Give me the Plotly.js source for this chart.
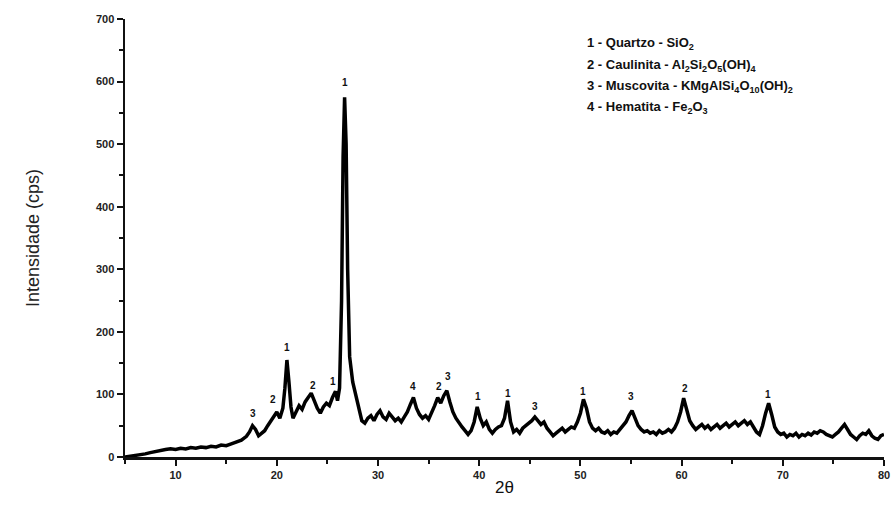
<!DOCTYPE html>
<html>
<head>
<meta charset="utf-8">
<script src="https://cdn.plot.ly/plotly-3.0.1.min.js"></script>
<style>html,body{margin:0;padding:0;background:#fff;}#chart{width:894px;height:511px;}</style>
</head>
<body>
<div id="chart"></div>
<script>
// 2θ positions (degrees)
const twoTheta = [5.0,5.5,6.0,6.5,7.0,7.5,8.0,8.5,9.0,9.5,10.0,10.5,11.0,11.5,12.0,12.5,13.0,13.5,14.0,14.5,15.0,15.5,16.0,16.5,17.0,17.3,17.6,17.9,18.2,18.5,18.8,19.1,19.4,19.7,20.0,20.3,20.6,20.8,21.0,21.2,21.4,21.6,21.9,22.2,22.5,22.8,23.1,23.4,23.7,24.0,24.3,24.6,24.9,25.2,25.5,25.8,26.0,26.2,26.4,26.55,26.7,26.85,27.0,27.2,27.5,27.8,28.1,28.4,28.7,29.0,29.3,29.6,29.9,30.2,30.5,30.8,31.1,31.4,31.7,32.0,32.3,32.6,32.9,33.2,33.5,33.8,34.1,34.4,34.7,35.0,35.3,35.6,35.9,36.2,36.5,36.8,37.1,37.4,37.7,38.0,38.3,38.6,38.9,39.2,39.5,39.8,40.1,40.4,40.7,41.0,41.3,41.6,41.9,42.2,42.5,42.8,43.1,43.4,43.7,44.0,44.3,44.6,44.9,45.2,45.5,45.8,46.1,46.4,46.7,47.0,47.3,47.6,47.9,48.2,48.5,48.8,49.1,49.4,49.7,50.0,50.3,50.6,50.9,51.2,51.5,51.8,52.1,52.4,52.7,53.0,53.3,53.6,53.9,54.2,54.5,54.8,55.1,55.4,55.7,56.0,56.3,56.6,56.9,57.2,57.5,57.8,58.1,58.4,58.7,59.0,59.3,59.6,59.9,60.2,60.5,60.8,61.1,61.4,61.7,62.0,62.3,62.6,62.9,63.2,63.5,63.8,64.1,64.4,64.7,65.0,65.3,65.6,65.9,66.2,66.5,66.8,67.1,67.4,67.7,68.0,68.3,68.6,68.9,69.2,69.5,69.8,70.1,70.4,70.7,71.0,71.3,71.6,71.9,72.2,72.5,72.8,73.1,73.4,73.7,74.0,74.3,74.6,74.9,75.2,75.5,75.8,76.1,76.4,76.7,77.0,77.3,77.6,77.9,78.2,78.5,78.8,79.1,79.4,79.7,80.0];
// Intensity (cps)
const intensity = [0,1,2,3,5,7,9,11,12,13,12,14,13,15,14,16,15,17,16,19,18,21,24,27,33,40,50,44,34,38,42,50,58,66,72,62,78,110,155,120,80,62,72,82,76,88,95,102,90,78,70,80,86,82,95,105,90,110,250,480,575,500,300,160,120,100,75,58,54,62,66,58,68,74,64,60,70,64,58,62,56,64,72,84,95,78,68,62,66,60,70,82,95,86,98,106,88,72,62,54,48,42,36,42,56,80,62,50,56,44,38,44,48,50,62,90,56,40,44,38,46,50,54,58,64,58,52,56,46,40,34,38,42,46,40,44,48,46,56,70,92,78,56,46,42,46,40,38,42,36,40,38,44,48,56,66,74,62,50,44,40,42,38,40,36,42,38,40,44,40,46,56,72,94,78,58,50,44,48,52,46,50,44,48,52,46,50,54,48,52,56,50,54,58,52,56,48,40,36,50,70,86,68,48,40,36,38,32,36,34,38,32,36,34,38,35,40,38,42,40,36,34,32,36,40,46,52,44,36,32,28,34,38,36,42,34,30,28,34,36];

// Peak phase labels
const peakLabelX = [17.6,19.6,21.0,23.6,25.6,26.75,33.5,36.0,36.9,39.9,42.8,45.5,50.3,55.0,60.3,68.5];
const peakLabelY = [70,92,175,115,120,598,113,112,128,96,102,80,104,96,110,100];
const peakLabelText = ["3","2","1","2","1","1","4","2","3","1","1","3","1","3","2","1"];

// Phase key
const phaseKey = [
  "1 - Quartzo - SiO<sub>2</sub>",
  "2 - Caulinita - Al<sub>2</sub>Si<sub>2</sub>O<sub>5</sub>(OH)<sub>4</sub>",
  "3 - Muscovita - KMgAlSi<sub>4</sub>O<sub>10</sub>(OH)<sub>2</sub>",
  "4 - Hematita - Fe<sub>2</sub>O<sub>3</sub>"
];

const xTicks = [10,20,30,40,50,60,70,80];
const yTicks = [0,100,200,300,400,500,600,700];

const FONT = 'Liberation Sans, Arial, sans-serif';
const annotations = peakLabelX.map((x, i) => ({
  x: x, y: peakLabelY[i], xref: 'x', yref: 'y', text: '<b>' + peakLabelText[i] + '</b>',
  showarrow: false, font: {family: FONT, size: 10, color: '#111'}
}));
const L = 125, R = 10, T = 19, B = 54, W = 894, H = 511;
phaseKey.forEach((t, i) => {
  annotations.push({
    x: (585 - L) / (W - L - R), y: 1 - (44 + i * 21 - T) / (H - T - B),
    xref: 'paper', yref: 'paper', text: '<b>' + t + '</b>',
    showarrow: false, xanchor: 'left', yanchor: 'middle',
    font: {family: FONT, size: 13, color: '#111'}
  });
});

const trace = {
  x: twoTheta, y: intensity, type: 'scatter', mode: 'lines',
  line: {color: '#000', width: 3.5, shape: 'linear'}, hoverinfo: 'skip'
};

const layout = {
  width: W, height: H,
  margin: {l: L, r: R, t: T, b: B},
  paper_bgcolor: '#fff', plot_bgcolor: '#fff',
  showlegend: false,
  font: {family: FONT, color: '#111'},
  xaxis: {
    range: [5, 80], tickvals: xTicks, ticktext: xTicks.map(String),
    ticks: 'outside', ticklen: 6, tickwidth: 2, tickcolor: '#111',
    showline: true, linecolor: '#111', linewidth: 2.5, mirror: false,
    showgrid: false, zeroline: false,
    tickfont: {size: 11, family: FONT, weight: 'bold', color: '#222'},
    minor: {dtick: 5, tick0: 5, ticks: 'outside', ticklen: 4, tickwidth: 2, tickcolor: '#111', showgrid: false},
    title: {text: '2θ', font: {size: 17, color: '#111'}, standoff: 2}
  },
  yaxis: {
    range: [0, 700], tickvals: yTicks, ticktext: yTicks.map(String),
    ticks: 'outside', ticklen: 6, tickwidth: 2, tickcolor: '#111',
    showline: true, linecolor: '#111', linewidth: 2.5, mirror: false,
    showgrid: false, zeroline: false,
    tickfont: {size: 11, family: FONT, weight: 'bold', color: '#222'},
    minor: {dtick: 50, tick0: 0, ticks: 'outside', ticklen: 4, tickwidth: 2, tickcolor: '#111', showgrid: false},
    title: {text: 'Intensidade (cps)', font: {size: 18, color: '#222'}, standoff: 52}
  },
  annotations: annotations
};

Plotly.newPlot('chart', [trace], layout, {displayModeBar: false, staticPlot: true});
</script>
</body>
</html>
